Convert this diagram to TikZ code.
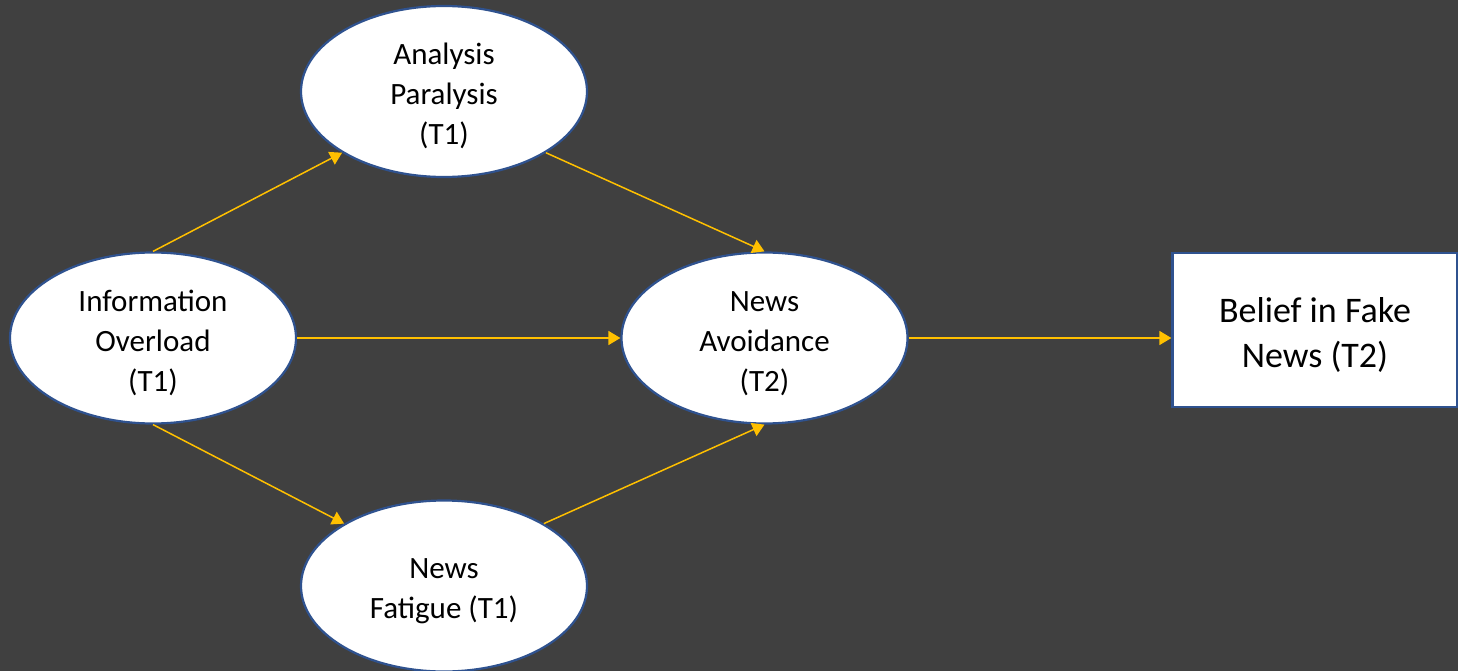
\documentclass[tikz,border=0pt]{standalone}
\usepackage{fontspec}
\setmainfont{Carlito}
\usetikzlibrary{arrows.meta,positioning,shapes.geometric}
\definecolor{bgdark}{HTML}{404040}
\definecolor{pathgold}{HTML}{FFC000}
\definecolor{rimblue}{HTML}{2F528F}
\newcommand{\padtop}[1]{\rule{0pt}{#1}}

\begin{document}
\begin{tikzpicture}[x=1pt, y=-1pt,
            construct/.style={ellipse, draw=rimblue, line width=2.2pt, fill=white,
                minimum width=286pt, minimum height=171pt, inner sep=0pt,
                align=center, font=\fontsize{31}{40}\selectfont}, % latent variables
            outcome/.style={rectangle, draw=rimblue, line width=2.2pt, fill=white,
                minimum width=285pt, minimum height=154pt, inner sep=0pt,
                align=center, font=\fontsize{36}{45}\selectfont},
            path/.style={draw=pathgold, line width=1.5pt,
                -{Triangle[length=12pt,width=14pt]}},
        ]
        \fill[bgdark] (0,0) rectangle (1458,671);
        \useasboundingbox (0,0) rectangle (1458,671);

        \node (overload)  [construct] at (153,338)   {\padtop{31pt}Information\\Overload\\(T1)};
        \node (paralysis) [construct] at (444,91.5)  {\padtop{31pt}Analysis\\Paralysis\\(T1)};
        \node (avoidance) [construct] at (764.5,338) {\padtop{31pt}News\\Avoidance\\(T2)};
        \node (fatigue)   [construct] at (444,586)   {\padtop{31pt}News\\Fatigue (T1)};
        \node (belief)    [outcome]   at (1315,330)  {\padtop{34pt}Belief in Fake\\News (T2)};

        \draw[path] (overload.north) -- (paralysis.211);
        \draw[path] (paralysis.329) -- (avoidance.north);
        \draw[path] (overload.east) -- (avoidance.west);
        \draw[path] (overload.south) -- (fatigue.148);
        \draw[path] (fatigue.32) -- (avoidance.south);
        \draw[path] (avoidance.east) -- (avoidance.east -| belief.west);
    \end{tikzpicture}
\end{document}
